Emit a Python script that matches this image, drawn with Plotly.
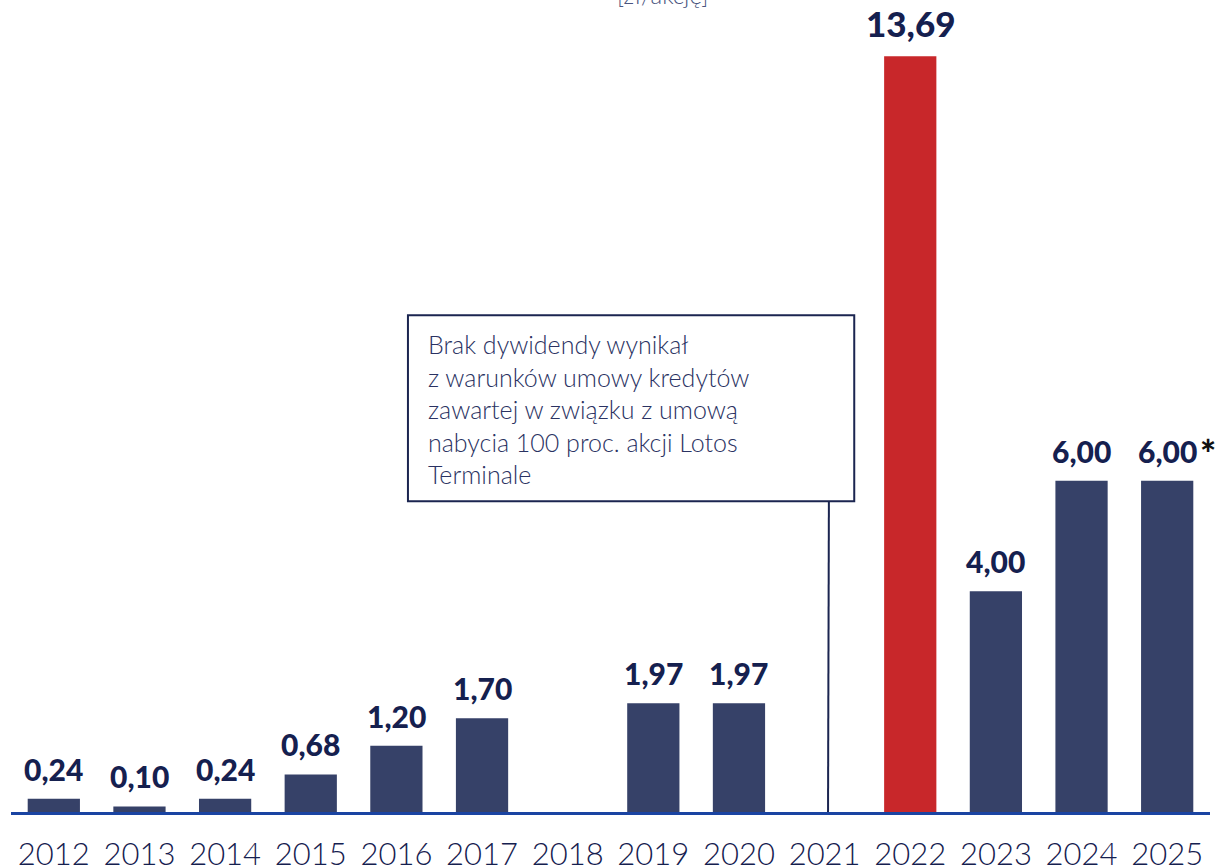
import plotly.graph_objects as go

years = ["2012", "2013", "2014", "2015", "2016", "2017", "2018",
         "2019", "2020", "2021", "2022", "2023", "2024", "2025"]
values = [0.24, 0.10, 0.24, 0.68, 1.20, 1.70, None,
          1.97, 1.97, None, 13.69, 4.00, 6.00, 6.00]
highlight_year = "2022"
unit_label = "[zł/akcję]"
note_text = ("Brak dywidendy wynikał<br>z warunków umowy kredytów<br>"
             "zawartej w związku z umową<br>nabycia 100 proc. akcji Lotos<br>Terminale")
note_year_index = 9  # 2021
starred_year = "2025"

NAVY = "#364168"
RED = "#c8272a"
TEXT = "#15204f"
AXIS = "#1a44a2"

PX_PER_UNIT = 55.2
PLOT_H = 812

colors = [RED if y == highlight_year else NAVY for y in years]

fig = go.Figure()
fig.add_trace(go.Bar(
    x=years, y=[v if v is not None else 0 for v in values],
    marker=dict(color=colors, line=dict(width=0)),
    width=0.61, hoverinfo="skip",
))

for i, (y, v) in enumerate(zip(years, values)):
    if v is None:
        continue
    big = (y == highlight_year)
    fig.add_annotation(
        x=i, y=v, xref="x", yref="y",
        text=f"{v:.2f}".replace(".", ","),
        showarrow=False, yanchor="bottom", yshift=10,
        font=dict(family="Lato", size=35 if big else 30, color=TEXT, weight=900),
    )
    if y == starred_year:
        fig.add_annotation(
            x=i, y=v, xref="x", yref="y", text="*",
            showarrow=False, yanchor="bottom", yshift=3, xshift=41,
            font=dict(family="Lato", size=38, color="#111111", weight=900),
        )

# note box
bx0, bx1, by0, by1 = 4.135, 9.346, 5.63, 9.0
fig.add_shape(type="rect", xref="x", yref="y", x0=bx0, x1=bx1, y0=by0, y1=by1,
              line=dict(color="#1b2550", width=2), fillcolor="white", layer="above")
fig.add_shape(type="line", xref="x", yref="y", x0=note_year_index + 0.05, x1=note_year_index + 0.04,
              y0=by0, y1=0, line=dict(color="#1b2550", width=2))
fig.add_annotation(
    x=bx0, y=by1, xref="x", yref="y", text=note_text, showarrow=False,
    xanchor="left", yanchor="top", align="left", xshift=18, yshift=-12,
    font=dict(family="Lato", size=25, color="#2a3262", weight=300),
)

fig.add_annotation(
    x=(662 - 11) / 1199, xref="paper", y=1, yref="paper", text=unit_label, showarrow=False,
    yanchor="bottom", yshift=-11,
    font=dict(family="Lato", size=24, color="#4a5580", weight=300),
)

fig.update_layout(
    width=1219, height=868,
    margin=dict(l=11, r=9, t=0, b=56, autoexpand=False),
    paper_bgcolor="white", plot_bgcolor="white",
    showlegend=False,
    xaxis=dict(
        type="category", range=[-0.5, 13.5], automargin=False,
        showline=True, linecolor=AXIS, linewidth=3,
        ticks="outside", ticklen=13, tickcolor="rgba(0,0,0,0)",
        tickfont=dict(family="Lato", size=31, color=TEXT, weight=300),
        showgrid=False, zeroline=False, fixedrange=True,
    ),
    yaxis=dict(range=[0, PLOT_H / PX_PER_UNIT], visible=False, showgrid=False,
               zeroline=False, fixedrange=True, automargin=False),
)

fig.write_html(
    "out.html",
    config={"displayModeBar": False},
    post_script="document.body.style.margin='0';document.body.style.overflow='hidden';",
)
